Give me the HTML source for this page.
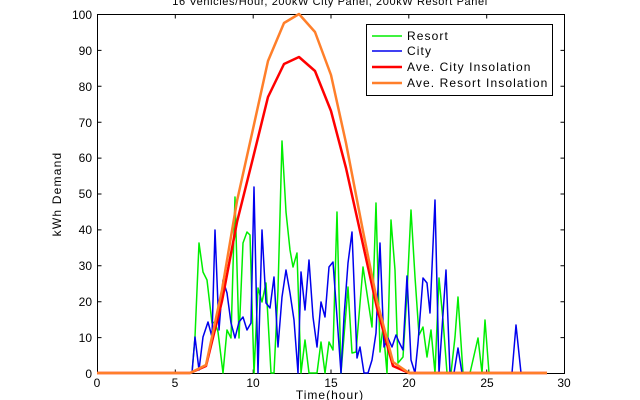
<!DOCTYPE html>
<html><head><style>body{margin:0;background:#fff}svg{display:block;font-family:"Liberation Sans",sans-serif}</style></head><body>
<svg width="640" height="400" viewBox="0 0 640 400">
<text x="330" y="5" font-size="11" text-anchor="middle" letter-spacing="0.6">16 Vehicles/Hour, 200kW City Panel, 200kW Resort Panel</text>
<g stroke="#000" stroke-width="1" fill="none">
<rect x="97.5" y="14.5" width="467" height="359"/>
<path d="M97.5 373.5v-4M175.3 373.5v-4M253.2 373.5v-4M331 373.5v-4M408.8 373.5v-4M486.7 373.5v-4M564.5 373.5v-4M97.5 14.5v4M175.3 14.5v4M253.2 14.5v4M331 14.5v4M408.8 14.5v4M486.7 14.5v4"/>
<path d="M97.5 337.6h4M97.5 301.7h4M97.5 265.8h4M97.5 229.9h4M97.5 194h4M97.5 158.1h4M97.5 122.2h4M97.5 86.3h4M97.5 50.4h4M564.5 337.6h-4M564.5 301.7h-4M564.5 265.8h-4M564.5 229.9h-4M564.5 194h-4M564.5 158.1h-4M564.5 122.2h-4M564.5 86.3h-4M564.5 50.4h-4"/>
</g>
<g font-size="12" text-anchor="end">
<text x="92" y="378">0</text><text x="92" y="342">10</text><text x="92" y="306">20</text><text x="92" y="270">30</text><text x="92" y="234">40</text><text x="92" y="198">50</text><text x="92" y="162">60</text><text x="92" y="127">70</text><text x="92" y="91">80</text><text x="92" y="55">90</text><text x="92" y="19">100</text>
</g>
<g font-size="12" text-anchor="middle">
<text x="97" y="387">0</text><text x="175" y="387">5</text><text x="253" y="387">10</text><text x="331" y="387">15</text><text x="409" y="387">20</text><text x="487" y="387">25</text><text x="564" y="387">30</text>
<text x="330" y="399" font-size="12" letter-spacing="1">Time(hour)</text>
</g>
<text transform="translate(61,194) rotate(-90)" font-size="12" text-anchor="middle" letter-spacing="1.2">kWh Demand</text>
<g fill="none" stroke-width="1.5" stroke-linejoin="round">
<polyline stroke="#00ee00" points="97,373 192,373 195,337 199,243 203,272 207,280 212,323 215,322 218,332 223,373 227,330 231,338 235,197 239,338 243,243 247,232 250,235 254,373 258,288 262,302 266,283 271,373 274,373 278,290 282,141 286,212 290,250 293,267 297,253 301,373 305,340 309,373 317,373 321,342 325,373 329,342 333,350 337,212 341,373 348,287 352,353 356,352 363,267 372,327 376,203 380,352 383,327 387,373 391,220 395,270 398,363 403,357 407,293 411,210 415,277 419,335 423,327 427,357 431,330 435,373 439,278 443,320 447,373 451,373 455,337 458,297 463,373 470,373 478,338 482,373 485,320 489,373 547,373"/>
<polyline stroke="#0000ee" points="97,373 192,373 195,337 199,370 203,337 208,322 212,337 215,230 219,330 223,280 227,293 231,323 235,338 239,322 243,317 247,330 251,323 254,187 258,373 262,230 266,303 270,308 274,277 278,347 282,297 286,270 290,293 294,320 298,373 301,272 305,310 309,260 313,317 317,347 321,302 325,317 329,267 333,262 337,317 341,373 344,317 348,263 352,232 357,358 360,347 364,373 368,373 372,360 376,333 380,243 384,347 388,338 392,347 396,335 399,342 403,350 407,276 411,360 415,373 418,343 423,278 427,283 430,313 435,200 439,373 446,270 450,373 454,373 458,348 462,373 512,373 516,325 521,373 547,373"/>
<polyline stroke="#ff0000" stroke-width="2.5" points="97,373 190,373 206,366 222,301 237,222 253,158 268,97 284,64 299,57 315,71 331,111 346,168 362,240 377,308 393,366 409,373 547,373"/>
<polyline stroke="#ff7f2a" stroke-width="2.5" points="97,373 190,373 206,365 222,290 237,201 253,129 268,61 284,23 299,14 315,32 331,75 346,143 362,226 377,301 393,362 409,373 547,373"/>
</g>
<rect x="366.5" y="24.5" width="186" height="71" fill="#fff" stroke="#000"/>
<g stroke-width="2" fill="none">
<path d="M372 36h30" stroke="#00ee00" stroke-width="1.5"/>
<path d="M372 51h30" stroke="#0000ee" stroke-width="1.5"/>
<path d="M372 67h30" stroke="#ff0000" stroke-width="2.5"/>
<path d="M372 83h30" stroke="#ff7f2a" stroke-width="2.5"/>
</g>
<g font-size="12" letter-spacing="1.1">
<text x="407" y="40">Resort</text><text x="407" y="55">City</text><text x="407" y="71">Ave. City Insolation</text><text x="407" y="87">Ave. Resort Insolation</text>
</g>
</svg>
</body></html>
